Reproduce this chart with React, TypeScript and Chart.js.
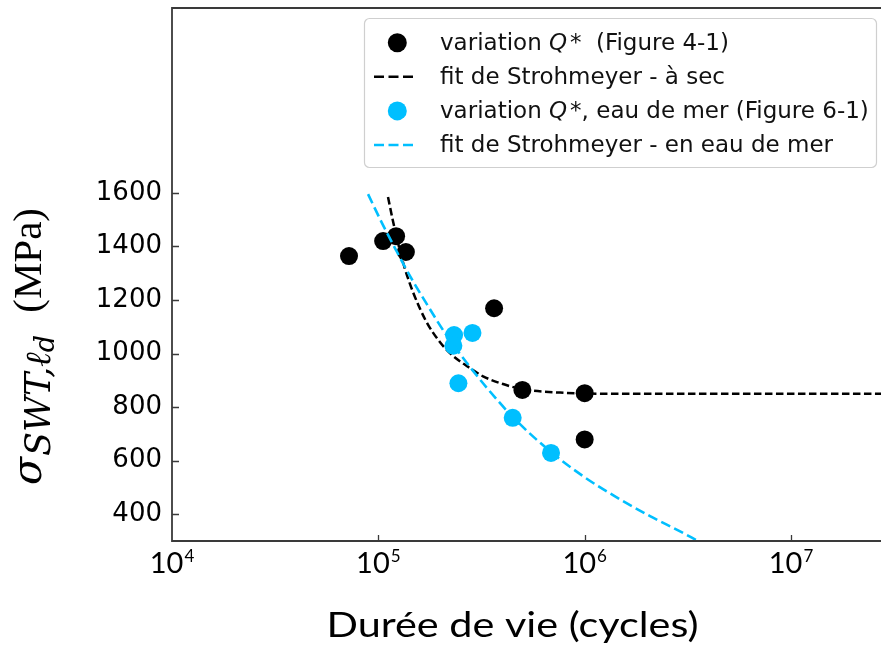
import React, { useEffect, useRef } from 'react';
import { Chart, registerables } from 'chart.js';

Chart.register(...registerables);

// ---- data ----
const dryN = [72100, 105500, 121900, 136000, 363900, 499000, 1000000, 1000000];
const dryS = [1364, 1420, 1438, 1379, 1169, 864, 852, 679];

const seaN = [232800, 231000, 285900, 244400, 447800, 687000];
const seaS = [1069, 1029, 1077, 889, 760, 629];

const dryFitN = [111400, 117800, 126000, 134700, 147300, 170300, 199100, 227700, 269200, 321800, 402300, 497400, 760100, 1188000, 3625000, 27300000];
const dryFitS = [1584, 1494, 1397, 1315, 1229, 1121, 1042, 994, 953, 915, 886, 867, 854, 850, 850, 850];

const seaFitN = [89160, 104200, 121800, 142500, 174100, 215300, 269100, 336500, 449700, 679700, 982200, 1436000, 2075000, 2900000, 3507000];
const seaFitS = [1595, 1487, 1386, 1289, 1177, 1065, 964, 871, 762, 635, 542, 462, 393, 336, 302];

const legendLabels = [
  'variation Q* (Figure 4-1)',
  'fit de Strohmeyer - à sec',
  'variation Q*, eau de mer (Figure 6-1)',
  'fit de Strohmeyer - en eau de mer',
];

const yTickValues = [400, 600, 800, 1000, 1200, 1400, 1600];
const xTickExponents = [4, 5, 6, 7];
const xTitle = 'Durée de vie (cycles)';
const yTitleSymbol = 'σ';
const yTitleSub = 'SWT,ℓ';
const yTitleSubSub = 'd';
const yTitleUnit = '(MPa)';

const xMin = 1e4;
const xMax = 2.73e7;
const yMin = 300;
const yMax = 2290;

const BLACK = '#000000';
const CYAN = '#00bfff';
const FRAME = '#3a3a3a';

const decor = {
  id: 'decor',
  afterDatasetsDraw(chart: any) {
    const ctx: CanvasRenderingContext2D = chart.ctx;
    const { left, right, top, bottom } = chart.chartArea;
    const xs = chart.scales.x;
    const ys = chart.scales.y;
    ctx.save();

    // frame (left, top, bottom)
    ctx.strokeStyle = FRAME;
    ctx.lineWidth = 1.8;
    ctx.beginPath();
    ctx.moveTo(right + 2, top);
    ctx.lineTo(left, top);
    ctx.lineTo(left, bottom);
    ctx.lineTo(right + 2, bottom);
    ctx.stroke();

    // inward ticks
    ctx.lineWidth = 1.3;
    ctx.beginPath();
    for (const v of yTickValues) {
      const py = Math.round(ys.getPixelForValue(v)) + 0.5;
      ctx.moveTo(left, py);
      ctx.lineTo(left + 7, py);
    }
    for (const e of xTickExponents) {
      const px = Math.round(xs.getPixelForValue(Math.pow(10, e))) + 0.5;
      if (px <= left + 1) continue;
      ctx.moveTo(px, bottom);
      ctx.lineTo(px, bottom - 6);
    }
    ctx.stroke();

    // x tick labels 10^e
    ctx.fillStyle = '#000';
    ctx.textBaseline = 'alphabetic';
    ctx.textAlign = 'left';
    const baseFont = '29px Lato, "Open Sans", sans-serif';
    const supFont = '17px Lato, "Open Sans", sans-serif';
    for (const e of xTickExponents) {
      const px = xs.getPixelForValue(Math.pow(10, e));
      ctx.font = baseFont;
      const wb = ctx.measureText('10').width;
      ctx.font = supFont;
      const ws = ctx.measureText(String(e)).width;
      const x0 = px - (wb + ws + 1) / 2;
      ctx.font = baseFont;
      ctx.fillText('10', x0, 573);
      ctx.font = supFont;
      ctx.fillText(String(e), x0 + wb + 1, 562);
    }

    // x title (stretched to the reference width)
    ctx.save();
    ctx.font = '34px Lato, "Open Sans", sans-serif';
    ctx.textAlign = 'center';
    const tw = ctx.measureText(xTitle).width;
    const sx = 372 / tw;
    ctx.translate(512.5, 637);
    ctx.scale(sx, 1);
    ctx.fillText(xTitle, 0, 0);
    ctx.restore();

    // y title (rotated)
    ctx.save();
    ctx.translate(41, 485);
    ctx.rotate(-Math.PI / 2);
    ctx.textAlign = 'left';
    const mathFont = '"DejaVu Serif", "Liberation Serif", serif';
    const romanFont = '"Liberation Serif", "DejaVu Serif", serif';
    const main = 41;
    const sub = 35;
    const subsub = 27;
    let x = 0;
    ctx.font = `italic ${main}px ${mathFont}`;
    ctx.fillText(yTitleSymbol, x, 0);
    x += ctx.measureText(yTitleSymbol).width + 1;
    ctx.font = `italic ${sub}px ${mathFont}`;
    ctx.fillText(yTitleSub, x, 9);
    x += ctx.measureText(yTitleSub).width;
    ctx.font = `italic ${subsub}px ${mathFont}`;
    ctx.fillText(yTitleSubSub, x, 13);
    ctx.font = `${main}px ${romanFont}`;
    const uw = ctx.measureText(yTitleUnit).width;
    ctx.fillText(yTitleUnit, 277 - uw, 0);
    ctx.restore();

    // legend
    const bx = 364, by = 18, bw = 512, bh = 149;
    ctx.fillStyle = 'rgba(255,255,255,0.85)';
    ctx.strokeStyle = '#cfcfcf';
    ctx.lineWidth = 1.2;
    ctx.beginPath();
    (ctx as any).roundRect(bx + 0.5, by + 0.5, bw, bh, 5);
    ctx.fill();
    ctx.stroke();

    const styles = [
      { kind: 'dot', color: BLACK },
      { kind: 'line', color: BLACK },
      { kind: 'dot', color: CYAN },
      { kind: 'line', color: CYAN },
    ];
    const font = '23px "DejaVu Sans", sans-serif';
    const ifont = 'oblique 23px "DejaVu Sans", sans-serif';
    legendLabels.forEach((label, i) => {
      const cy = 42.7 + i * 34.1;
      const st = styles[i];
      if (st.kind === 'dot') {
        ctx.fillStyle = st.color;
        ctx.beginPath();
        ctx.arc(397.3, cy, 9.5, 0, Math.PI * 2);
        ctx.fill();
      } else {
        ctx.strokeStyle = st.color;
        ctx.lineWidth = 2.5;
        ctx.setLineDash([10, 4.5]);
        ctx.beginPath();
        ctx.moveTo(374, cy);
        ctx.lineTo(416, cy);
        ctx.stroke();
        ctx.setLineDash([]);
      }
      ctx.fillStyle = '#111';
      ctx.textAlign = 'left';
      let tx = 440;
      const ty = cy + 7;
      const k = label.indexOf('Q*');
      if (k >= 0) {
        const before = label.slice(0, k);
        const after = label.slice(k + 2);
        ctx.font = font;
        ctx.fillText(before, tx, ty);
        tx += ctx.measureText(before).width;
        ctx.font = ifont;
        ctx.fillText('Q', tx, ty);
        tx += ctx.measureText('Q').width + 3;
        ctx.font = font;
        ctx.fillText('*', tx, ty);
        tx += ctx.measureText('*').width;
        if (after.startsWith(' ')) tx += 7;
        ctx.fillText(after, tx, ty);
      } else {
        ctx.font = font;
        ctx.fillText(label, tx, ty);
      }
    });

    ctx.restore();
  },
};

export default function App() {
  const ref = useRef<HTMLCanvasElement>(null);
  useEffect(() => {
    const canvas = ref.current!;
    const chart = new Chart(canvas, {
      type: 'scatter',
      data: {
        datasets: [
          {
            label: legendLabels[0],
            data: dryN.map((x, i) => ({ x, y: dryS[i] })),
            backgroundColor: BLACK,
            borderColor: BLACK,
            pointRadius: 9,
            pointBorderWidth: 0,
            showLine: false,
            order: 4,
          },
          {
            label: legendLabels[1],
            data: dryFitN.map((x, i) => ({ x, y: dryFitS[i] })),
            borderColor: BLACK,
            backgroundColor: BLACK,
            borderWidth: 2.5,
            borderDash: [7.5, 3.5],
            pointRadius: 0,
            showLine: true,
            fill: false,
            cubicInterpolationMode: 'monotone',
            order: 3,
          },
          {
            label: legendLabels[2],
            data: seaN.map((x, i) => ({ x, y: seaS[i] })),
            backgroundColor: CYAN,
            borderColor: CYAN,
            pointRadius: 9,
            pointBorderWidth: 0,
            showLine: false,
            order: 2,
          },
          {
            label: legendLabels[3],
            data: seaFitN.map((x, i) => ({ x, y: seaFitS[i] })),
            borderColor: CYAN,
            backgroundColor: CYAN,
            borderWidth: 2.6,
            borderDash: [10, 4.5],
            pointRadius: 0,
            showLine: true,
            fill: false,
            cubicInterpolationMode: 'monotone',
            order: 1,
          },
        ] as any,
      },
      options: {
        responsive: false,
        animation: false,
        devicePixelRatio: 1,
        events: [],
        layout: { autoPadding: false, padding: { top: 8, left: 0, right: 0, bottom: 0 } },
        plugins: { legend: { display: false }, tooltip: { enabled: false } },
        scales: {
          x: {
            type: 'logarithmic',
            min: xMin,
            max: xMax,
            grid: { display: false },
            border: { display: false },
            ticks: { display: false },
            afterFit: (s: any) => {
              s.height = 116;
              s.paddingLeft = 0;
              s.paddingRight = 0;
            },
          },
          y: {
            type: 'linear',
            min: yMin,
            max: yMax,
            grid: { display: false, drawTicks: false },
            border: { display: false },
            afterBuildTicks: (s: any) => {
              s.ticks = yTickValues.map((v) => ({ value: v }));
            },
            ticks: {
              display: true,
              autoSkip: false,
              padding: 10,
              color: '#000',
              font: { family: '"DejaVu Sans", sans-serif', size: 26 },
              callback: (v: any) => String(v),
            },
            afterFit: (s: any) => {
              s.width = 172;
              s.paddingTop = 0;
              s.paddingBottom = 0;
            },
          },
        },
      } as any,
      plugins: [decor],
    });
    return () => chart.destroy();
  }, []);
  return (
    <canvas
      ref={ref}
      width={881}
      height={657}
      style={{ position: 'absolute', left: 0, top: 0, display: 'block', width: 881, height: 657 }}
    />
  );
}
